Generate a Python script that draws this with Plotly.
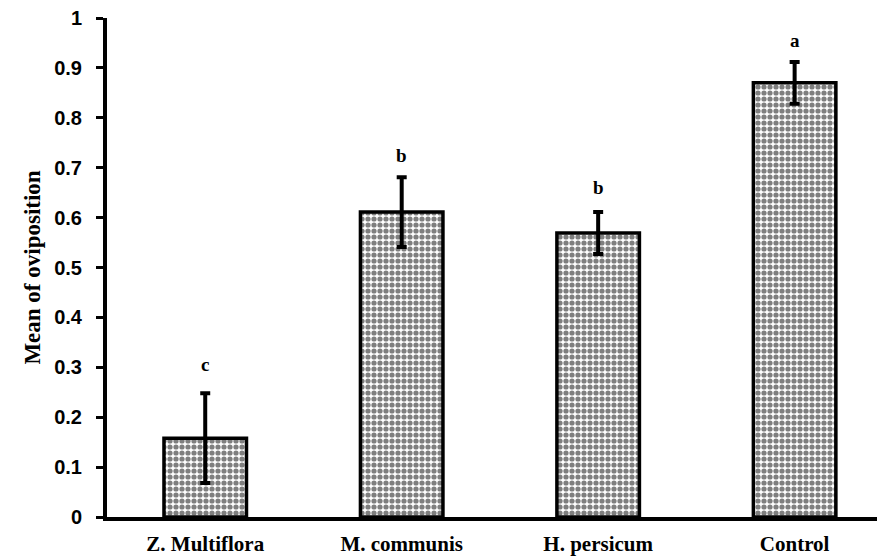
import plotly.graph_objects as go

categories = ["Z. Multiflora", "M. communis", "H. persicum", "Control"]
means = [0.158, 0.611, 0.569, 0.870]
errors = [0.09, 0.07, 0.042, 0.042]
letters = ["c", "b", "b", "a"]
letter_y = [0.305, 0.725, 0.66, 0.955]
y_ticks = [0, 0.1, 0.2, 0.3, 0.4, 0.5, 0.6, 0.7, 0.8, 0.9, 1]
y_tick_text = ["0", "0.1", "0.2", "0.3", "0.4", "0.5", "0.6", "0.7", "0.8", "0.9", "1"]

fig = go.Figure()
fig.add_trace(go.Bar(
    x=list(range(len(categories))),
    y=means,
    width=0.42,
    marker=dict(
        color="white",
        line=dict(color="black", width=3.5),
        pattern=dict(shape=".", fgcolor="black", bgcolor="white", size=6, solidity=0.6),
    ),
    error_y=dict(type="data", array=errors, visible=True, color="black", thickness=4, width=5),
    showlegend=False,
))

for i, (lt, ly) in enumerate(zip(letters, letter_y)):
    fig.add_annotation(x=i, y=ly, text="<b>%s</b>" % lt, showarrow=False,
                       font=dict(family="Liberation Serif", size=19, color="black"))

# page body has an 8px margin, so the figure is sized to fit inside the window
fig.update_layout(
    width=877, height=550,
    margin=dict(l=99, r=0, t=10, b=41),
    plot_bgcolor="white", paper_bgcolor="white",
)
fig.update_xaxes(
    automargin=False,
    range=[-0.5, 3.46],
    tickvals=list(range(len(categories))),
    ticktext=["<b>%s</b>" % c for c in categories],
    tickfont=dict(family="Liberation Serif", size=21, color="black"),
    showline=True, linecolor="black", linewidth=4,
    ticks="", showgrid=False, zeroline=False,
    ticklabelstandoff=5,
    ticklabeloverflow="allow",
)
fig.update_yaxes(
    automargin=False,
    range=[0, 1],
    tickvals=y_ticks,
    ticktext=["<b>%s</b>" % t for t in y_tick_text],
    tickfont=dict(family="Liberation Sans", size=20, color="black"),
    showline=True, linecolor="black", linewidth=4,
    ticks="outside", ticklen=7, tickwidth=3, tickcolor="black",
    showgrid=False, zeroline=False,
    ticklabelstandoff=10,
    ticklabeloverflow="allow",
    title=dict(text="<b>Mean of oviposition</b>",
               font=dict(family="Liberation Serif", size=23, color="black"),
               standoff=8),
)

fig.write_html("out.html")
